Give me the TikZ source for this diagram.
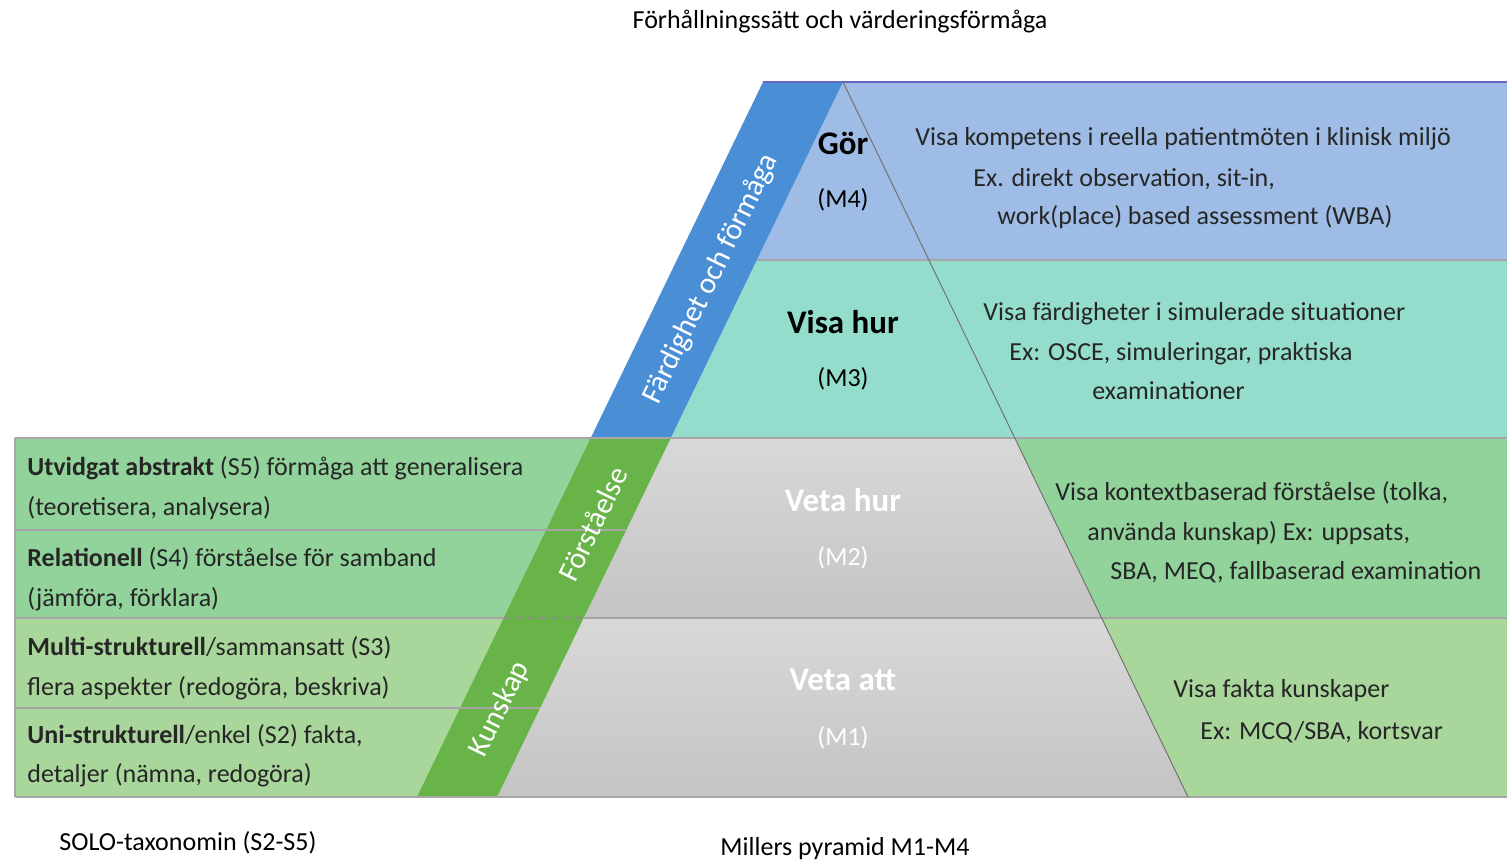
\documentclass[tikz,border=0pt]{standalone}
\usepackage{fontspec}
\setmainfont{Carlito}
\usepackage{tikz}
\usetikzlibrary{positioning}
\definecolor{bandblue}{RGB}{158,188,229}
\definecolor{bandteal}{RGB}{148,221,205}
\definecolor{stripblue}{RGB}{74,143,214}
\definecolor{greenA}{RGB}{145,211,155}
\definecolor{greenB}{RGB}{169,214,155}
\definecolor{stripgreen}{RGB}{104,180,72}
\definecolor{graytop}{RGB}{216,216,216}
\definecolor{graybot}{RGB}{196,196,196}

\begin{document}
\begin{tikzpicture}[x=0.5pt,y=-0.5pt]
\tikzstyle{txt}=[font=\fontsize{13}{15}\selectfont,text=black!85,inner sep=0pt,anchor=base west]
\tikzstyle{level}=[font=\fontsize{16.5}{18}\bfseries\selectfont,inner sep=0pt]
\tikzstyle{code}=[font=\fontsize{13}{15}\selectfont,inner sep=0pt]
\tikzstyle{striptxt}=[font=\fontsize{15}{17}\selectfont,text=white,rotate=64,inner sep=0pt]
\tikzstyle{sep}=[draw=black!35,line width=0.6pt]
\tikzstyle{edge}=[draw=black!55,line width=0.5pt]
\tikzstyle{grayfill}=[top color=graytop,bottom color=graybot]

\useasboundingbox (0,0) rectangle (1507,863);
\fill[white] (0,0) rectangle (1507,863);

% rows of the pyramid
\fill[bandblue] (843,82) -- (1507,82) -- (1507,260) -- (756.9,260) -- cycle;
\fill[bandteal] (756.9,260) -- (1507,260) -- (1507,438) -- (670.7,438) -- cycle;
\fill[greenA] (15,438) rectangle (1507,618);
\fill[greenB] (15,618) rectangle (1507,797);
\shade[grayfill] (670.7,438) -- (1014.8,438) -- (1101.6,618) -- (583.6,618) -- cycle;
\shade[grayfill] (583.6,618) -- (1101.6,618) -- (1188,797) -- (497,797) -- cycle;

% slanted bands
\fill[stripblue] (763,82) -- (843,82) -- (670.7,438) -- (590.7,438) -- cycle;
\fill[stripgreen] (590.7,438) -- (670.7,438) -- (497,797) -- (417,797) -- cycle;
\draw[black!45,dashed,line width=0.6pt] (503.6,618) -- (583.6,618);

% lines
\draw[draw=black!40!blue!60,line width=0.7pt] (763,82) -- (1507,82);
\draw[sep] (756.9,260) -- (1507,260);
\draw[sep] (15,438) -- (1507,438);
\draw[sep] (15,530) -- (626.2,530);
\draw[sep] (15,618) -- (503.6,618) (583.6,618) -- (1507,618);
\draw[sep] (15,708) -- (540.1,708);
\draw[sep] (15,797) -- (1507,797);
\draw[sep] (15,438) -- (15,797);
\draw[edge] (843,82) -- (1188,797);

% labels
\node[code] (title) at (840,22) {Förhållningssätt och värderingsförmåga};
\node[code] (solo) at (188,843) {SOLO-taxonomin (S2-S5)};
\node[code] (miller) at (845,849) {Millers pyramid M1-M4};

\node[striptxt] (skill) at (711,279) {Färdighet och förmåga};
\node[striptxt] (insight) at (593,524) {Förståelse};
\node[striptxt] (know) at (500,709) {Kunskap};

\node[level] (m4) at (843,143) {Gör};
\node[code] (m4n) at (843,200) {(M4)};
\node[level] (m3) at (843,322) {Visa hur};
\node[code] (m3n) at (843,379) {(M3)};
\node[level,text=white] (m2) at (843,500) {Veta hur};
\node[code,text=white] (m2n) at (843,558) {(M2)};
\node[level,text=white] (m1) at (843,680) {Veta att};
\node[code,text=white] (m1n) at (843,738) {(M1)};

\node[txt] (m4a) at (915,145) {Visa kompetens i reella patientmöten i klinisk miljö};
\node[txt] (m4b) at (973,186) {Ex. direkt observation, sit-in,};
\node[txt] (m4c) at (997,224) {work(place) based assessment (WBA)};
\node[txt] (m3a) at (983,320) {Visa färdigheter i simulerade situationer};
\node[txt] (m3b) at (1009,360) {Ex: OSCE, simuleringar, praktiska};
\node[txt] (m3c) at (1092,399) {examinationer};
\node[txt] (m2a) at (1055,500) {Visa kontextbaserad förståelse (tolka,};
\node[txt] (m2b) at (1087,540) {använda kunskap) Ex: uppsats,};
\node[txt] (m2c) at (1110,579) {SBA, MEQ, fallbaserad examination};
\node[txt] (m1a) at (1173,697) {Visa fakta kunskaper};
\node[txt] (m1b) at (1200,739) {Ex: MCQ/SBA, kortsvar};

\node[txt] (s5a) at (27,475) {\textbf{Utvidgat abstrakt} (S5) förmåga att generalisera};
\node[txt] (s5b) at (27,515) {(teoretisera, analysera)};
\node[txt] (s4a) at (27,566) {\textbf{Relationell} (S4) förståelse för samband};
\node[txt] (s4b) at (27,606) {(jämföra, förklara)};
\node[txt] (s3a) at (27,655) {\textbf{Multi-strukturell}/sammansatt (S3)};
\node[txt] (s3b) at (27,695) {flera aspekter (redogöra, beskriva)};
\node[txt] (s2a) at (27,743) {\textbf{Uni-strukturell}/enkel (S2) fakta,};
\node[txt] (s2b) at (27,782) {detaljer (nämna, redogöra)};
\end{tikzpicture}
\end{document}
